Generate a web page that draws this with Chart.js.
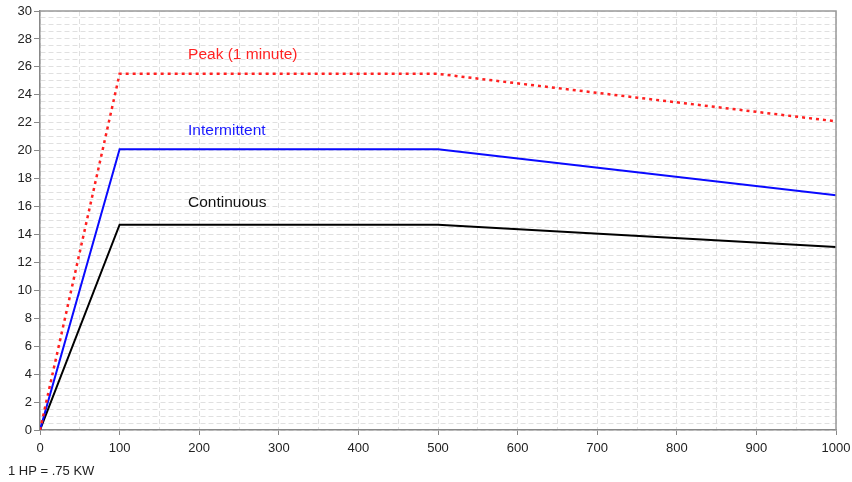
<!DOCTYPE html>
<html>
<head>
<meta charset="utf-8">
<script src="https://cdn.jsdelivr.net/npm/chart.js@4/dist/chart.umd.min.js"></script>
<style>
  body { margin: 0; background: #fff; }
  #caja { width: 852px; height: 482px; position: relative; }
</style>
</head>
<body>
<div id="caja"><canvas id="grafico"></canvas></div>
<script>
// Datos
const rpm = [0, 100, 500, 1000];
const pico = [0, 25.5, 25.5, 22.1];
const intermitente = [0, 20.1, 20.1, 16.8];
const continuo = [0, 14.7, 14.7, 13.1];
const etiquetas = ["Peak (1 minute)", "Intermittent", "Continuous"];
const nota = "1 HP = .75 KW";

const fuente = "'Liberation Sans', Arial, sans-serif";

function puntos(valores) {
  return rpm.map((x, i) => ({ x: x, y: valores[i] }));
}

// Textos sobre las líneas y marco del área
const extras = {
  id: "extras",
  afterDraw(chart) {
    const ctx = chart.ctx;
    const a = chart.chartArea;
    const sx = chart.scales.x;
    const sy = chart.scales.y;
    ctx.save();
    ctx.strokeStyle = "#999";
    ctx.lineWidth = 1.5;
    ctx.beginPath();
    ctx.moveTo(a.left, a.top);
    ctx.lineTo(a.right, a.top);
    ctx.lineTo(a.right, a.bottom);
    ctx.stroke();

    ctx.font = "15.5px " + fuente;
    ctx.textBaseline = "middle";
    ctx.textAlign = "left";
    const colores = ["#ff2222", "#1a1aff", "#111"];
    const ys = [26.9, 21.4, 16.25];
    etiquetas.forEach((t, i) => {
      ctx.fillStyle = colores[i];
      ctx.fillText(t, sx.getPixelForValue(186), sy.getPixelForValue(ys[i]));
    });

    ctx.font = "13px " + fuente;
    ctx.fillStyle = "#222";
    ctx.fillText(nota, 8, 471);
    ctx.restore();
  }
};

const ctx = document.getElementById("grafico").getContext("2d");
new Chart(ctx, {
  type: "scatter",
  data: {
    datasets: [
      {
        data: puntos(pico),
        showLine: true,
        borderColor: "#ff2020",
        borderWidth: 2.5,
        borderDash: [3, 4],
        pointRadius: 0,
        tension: 0
      },
      {
        data: puntos(intermitente),
        showLine: true,
        borderColor: "#0a0aff",
        borderWidth: 2,
        pointRadius: 0,
        tension: 0
      },
      {
        data: puntos(continuo),
        showLine: true,
        borderColor: "#000",
        borderWidth: 2,
        pointRadius: 0,
        tension: 0
      }
    ]
  },
  options: {
    responsive: true,
    maintainAspectRatio: false,
    animation: false,
    layout: { padding: { left: 0, right: 16, top: 11, bottom: 22 } },
    plugins: { legend: { display: false }, tooltip: { enabled: false } },
    scales: {
      x: {
        type: "linear",
        min: 0,
        max: 1000,
        afterFit(s) { s.height = 30; s.paddingLeft = 0; s.paddingRight = 0; },
        ticks: {
          stepSize: 50,
          autoSkip: false,
          maxRotation: 0,
          padding: 6,
          color: "#222",
          font: { family: fuente, size: 13 },
          callback: v => (v % 100 === 0 ? v : "")
        },
        grid: {
          color: "#e0e0e0",
          lineWidth: 1,
          tickLength: 5,
          tickColor: c => (c.tick && c.tick.value % 100 === 0 ? "#888" : "rgba(0,0,0,0)")
        },
        border: { color: "#888", width: 1.5, dash: [5, 3] }
      },
      y: {
        min: 0,
        max: 30,
        afterFit(s) { s.width = 40; s.paddingTop = 0; s.paddingBottom = 0; },
        ticks: {
          stepSize: 0.5,
          autoSkip: false,
          maxTicksLimit: 100,
          padding: 2,
          color: "#222",
          font: { family: fuente, size: 13 },
          callback: v => (v % 2 === 0 ? v : "")
        },
        grid: {
          color: "#e0e0e0",
          lineWidth: 1,
          tickLength: 6,
          tickColor: c => (c.tick && c.tick.value % 2 === 0 ? "#888" : "rgba(0,0,0,0)")
        },
        border: { color: "#888", width: 1.5, dash: [5, 3] }
      }
    }
  },
  plugins: [extras]
});
</script>
</body>
</html>
